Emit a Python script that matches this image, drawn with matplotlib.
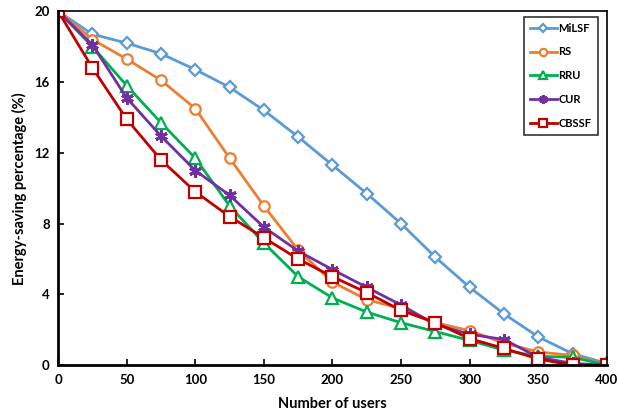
# Energy-saving percentage vs number of users

import matplotlib.pyplot as plt

plt.rcParams['font.family'] = ['Lato', 'DejaVu Sans']
plt.rcParams['font.weight'] = 'bold'

# data
users = [0, 25, 50, 75, 100, 125, 150, 175, 200, 225, 250, 275, 300, 325, 350, 375, 400]
milsf = [20, 18.7, 18.2, 17.6, 16.7, 15.7, 14.4, 12.9, 11.3, 9.7, 8.0, 6.1, 4.4, 2.9, 1.6, 0.65, 0.1]
rs    = [20, 18.4, 17.3, 16.1, 14.5, 11.7, 9.0, 6.5, 4.7, 3.7, 3.2, 2.4, 1.95, 1.25, 0.75, 0.55, 0]
rru   = [20, 18.0, 15.8, 13.7, 11.7, 9.0, 6.9, 5.0, 3.8, 3.0, 2.4, 1.9, 1.4, 0.85, 0.5, 0.45, 0]
cur   = [20, 18.1, 15.1, 12.95, 11.0, 9.6, 7.8, 6.45, 5.4, 4.4, 3.4, 2.3, 1.75, 1.45, 0.45, 0.1, 0]
cbssf = [20, 16.8, 13.9, 11.6, 9.8, 8.4, 7.2, 6.0, 5.0, 4.1, 3.1, 2.4, 1.5, 0.95, 0.35, 0, 0]

fig = plt.figure(figsize=(6.18, 4.15), dpi=100)
ax = fig.add_axes([0.094, 0.12, 0.888, 0.853])

style = dict(lw=2, mfc='white', mew=1.6)
ax.plot(users, milsf, color='#5B9BD5', marker='D', ms=6.5, label='MiLSF', **style)
ax.plot(users, rs, color='#ED7D31', marker='o', ms=7.5, label='RS', **style)
ax.plot(users, rru, color='#00B050', marker='^', ms=8, label='RRU', **style)
ax.plot(users, cur, color='#7030A0', marker=(6, 2, 0), ms=9, label='CUR', lw=2, mew=2.2)
ax.plot(users, cbssf, color='#C00000', marker='s', ms=8, label='CBSSF', **style)

ax.set_xlim(0, 400)
ax.set_ylim(0, 20)
ax.set_xticks(range(0, 401, 50))
ax.set_yticks(range(0, 21, 4))
ax.tick_params(direction='in', length=4, width=1.2, labelsize=9.5, pad=6)
for lab in ax.get_xticklabels() + ax.get_yticklabels():
    lab.set_fontweight('bold')

ax.spines['left'].set_linewidth(2)
ax.spines['bottom'].set_linewidth(2)
ax.spines['top'].set_linewidth(1.2)
ax.spines['right'].set_linewidth(1.2)

ax.set_xlabel('Number of users', fontsize=10.5, fontweight='bold', labelpad=8)
ax.set_ylabel('Energy-saving percentage (%)', fontsize=10.5, fontweight='bold', labelpad=5)

leg = ax.legend(loc='upper right', bbox_to_anchor=(0.983, 0.985), fancybox=False,
                edgecolor='black', fontsize=8, handlelength=2.4, handletextpad=0.15,
                labelspacing=1.15, borderpad=0.55, borderaxespad=0.0, markerscale=0.7)
leg.get_frame().set_linewidth(1.2)
for t in leg.get_texts():
    t.set_fontweight('bold')

plt.savefig('out.png', dpi=100)
